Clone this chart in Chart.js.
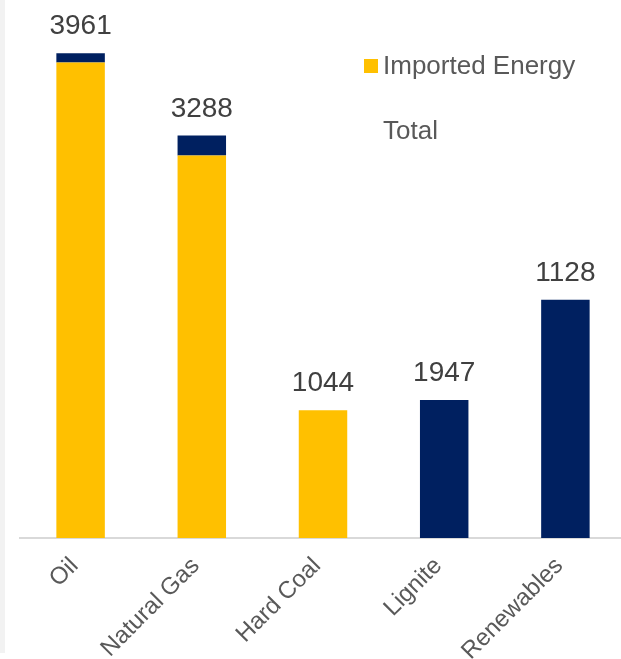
<!DOCTYPE html>
<html>
<head>
<meta charset="utf-8">
<script src="https://cdn.jsdelivr.net/npm/chart.js@4"></script>
<style>
  html, body { margin: 0; padding: 0; background: #fff; overflow: hidden; }
  #strip { position: absolute; left: 0; top: 0; width: 5px; height: 653px; background: #f2f2f2; }
  #wrap { position: absolute; left: 0; top: 0; width: 626px; height: 659px; }
</style>
</head>
<body>
<div id="strip"></div>
<div id="wrap"><canvas id="energyChart"></canvas></div>
<script>
const categories = ["Oil", "Natural Gas", "Hard Coal", "Lignite", "Renewables"];
const imported = [3885, 3125, 1044, 0, 0];
const domestic = [76, 163, 0, 1128, 1947];
const totalLabels = ["3961", "3288", "1044", "1947", "1128"];

const YELLOW = "#FFC000";
const NAVY = "#002060";
const FONT = "'Liberation Sans', Arial, sans-serif";

const ctx = document.getElementById("energyChart").getContext("2d");

// numbers above each stacked bar
const totalsPlugin = {
  id: "totals",
  afterDatasetsDraw(chart) {
    const c = chart.ctx;
    const y = chart.scales.y;
    const meta = chart.getDatasetMeta(0);
    c.save();
    c.font = "28px " + FONT;
    c.fillStyle = "#404040";
    c.textAlign = "center";
    c.textBaseline = "alphabetic";
    meta.data.forEach((bar, i) => {
      const top = y.getPixelForValue(imported[i] + domestic[i]);
      c.fillText(totalLabels[i], bar.x, top - 19);
    });
    c.restore();
  }
};

// legend: "Imported Energy" with marker, "Total" without
const legendPlugin = {
  id: "sideLegend",
  afterDraw(chart) {
    const c = chart.ctx;
    c.save();
    c.fillStyle = YELLOW;
    c.fillRect(364, 59, 14, 14);
    c.font = "26px " + FONT;
    c.fillStyle = "#595959";
    c.textAlign = "left";
    c.textBaseline = "middle";
    c.fillText("Imported Energy", 383, 67);
    c.fillText("Total", 383, 132);
    c.restore();
  }
};

new Chart(ctx, {
  type: "bar",
  data: {
    labels: categories,
    datasets: [
      { label: "Imported Energy", data: imported, backgroundColor: YELLOW, barPercentage: 0.4, categoryPercentage: 1 },
      { label: "Domestic", data: domestic, backgroundColor: NAVY, barPercentage: 0.4, categoryPercentage: 1 }
    ]
  },
  options: {
    responsive: true,
    maintainAspectRatio: false,
    animation: false,
    layout: { padding: { left: 20, top: 24, right: 0, bottom: 0 } },
    plugins: { legend: { display: false }, tooltip: { enabled: false } },
    scales: {
      x: {
        stacked: true,
        grid: { display: false },
        border: { color: "#d9d9d9", width: 2 },
        ticks: {
          autoSkip: false,
          minRotation: 45,
          maxRotation: 45,
          padding: 6,
          labelOffset: -6,
          color: "#595959",
          font: { size: 24, family: FONT }
        },
        afterFit(axis) { axis.height = 121; }
      },
      y: {
        stacked: true,
        display: false,
        min: 0,
        max: 4200
      }
    }
  },
  plugins: [totalsPlugin, legendPlugin]
});
</script>
</body>
</html>
